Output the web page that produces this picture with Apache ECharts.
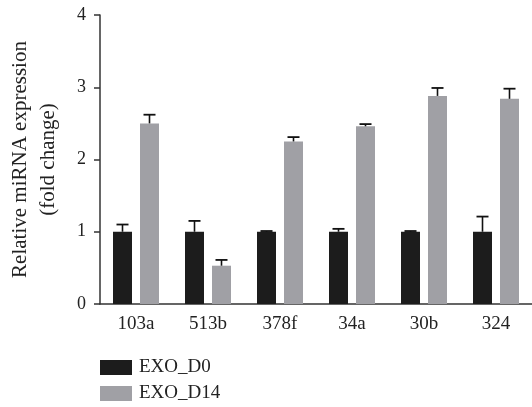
<!DOCTYPE html>
<html>
<head>
<meta charset="utf-8">
<script src="https://cdn.jsdelivr.net/npm/echarts@6/dist/echarts.min.js"></script>
<style>html,body{margin:0;padding:0;background:#fff}#c{width:532px;height:407px}</style>
</head>
<body>
<div id="c"></div>
<script>
var categories = ['103a', '513b', '378f', '34a', '30b', '324'];
var d0Values = [1.0, 1.0, 1.0, 1.0, 1.0, 1.0];
var d0Errors = [0.10, 0.15, 0.01, 0.04, 0.01, 0.21];
var d14Values = [2.50, 0.53, 2.25, 2.46, 2.88, 2.84];
var d14Errors = [0.12, 0.08, 0.06, 0.03, 0.11, 0.14];
var seriesNames = ['EXO_D0', 'EXO_D14'];
var yTicks = [0, 1, 2, 3, 4];

var FONT = 'Liberation Serif';
var BAR_W = 19, GAP = 8;
var offs = [-(BAR_W + GAP) / 2, (BAR_W + GAP) / 2];

function errSeries(vals, errs, idx) {
  return {
    type: 'custom',
    silent: true,
    z: 5,
    data: vals.map(function (v, i) { return [i, v, v + errs[i]]; }),
    renderItem: function (params, api) {
      var base = api.coord([api.value(0), api.value(1)]);
      var top = api.coord([api.value(0), api.value(2)]);
      var x = base[0] + offs[idx];
      var half = 6;
      return {
        type: 'group',
        children: [
          { type: 'line', shape: { x1: x, y1: base[1], x2: x, y2: top[1] }, style: { stroke: '#111', lineWidth: 1.6 } },
          { type: 'line', shape: { x1: x - half, y1: top[1], x2: x + half, y2: top[1] }, style: { stroke: '#111', lineWidth: 1.8 } }
        ]
      };
    }
  };
}

function legendFor(name, top) {
  return {
    left: 100, top: top,
    padding: 0,
    itemWidth: 32, itemHeight: 15,
    icon: 'rect',
    textStyle: { fontFamily: FONT, fontSize: 19, color: '#222', padding: [0, 0, 0, 2] },
    data: [name]
  };
}

var chart = echarts.init(document.getElementById('c'));
chart.setOption({
  animation: false,
  textStyle: { fontFamily: FONT },
  grid: { left: 100, right: 0, top: 15, bottom: 103, containLabel: false, outerBoundsMode: 'none' },
  legend: [legendFor(seriesNames[0], 358), legendFor(seriesNames[1], 384)],
  xAxis: {
    type: 'category',
    data: categories,
    axisLine: { lineStyle: { color: '#333', width: 1.5 } },
    axisTick: { alignWithLabel: true, length: 7, lineStyle: { color: '#333', width: 1.5 } },
    axisLabel: { fontFamily: FONT, fontSize: 19, color: '#222', margin: 11 }
  },
  yAxis: {
    type: 'value',
    min: yTicks[0], max: yTicks[yTicks.length - 1], interval: 1,
    name: 'Relative miRNA expression\n(fold change)',
    nameLocation: 'middle',
    nameGap: 38,
    nameTextStyle: { fontFamily: FONT, fontSize: 21, color: '#222', lineHeight: 28 },
    axisLine: { show: true, lineStyle: { color: '#333', width: 1.5 } },
    axisTick: { show: true, length: 6, lineStyle: { color: '#333', width: 1.5 } },
    axisLabel: { fontFamily: FONT, fontSize: 18, color: '#222', margin: 14 },
    splitLine: { show: false }
  },
  series: [
    { name: seriesNames[0], type: 'bar', data: d0Values, barWidth: BAR_W, barGap: (GAP / BAR_W * 100) + '%', itemStyle: { color: '#1c1c1c' } },
    { name: seriesNames[1], type: 'bar', data: d14Values, barWidth: BAR_W, itemStyle: { color: '#a0a0a5' } },
    errSeries(d0Values, d0Errors, 0),
    errSeries(d14Values, d14Errors, 1)
  ]
});
</script>
</body>
</html>
